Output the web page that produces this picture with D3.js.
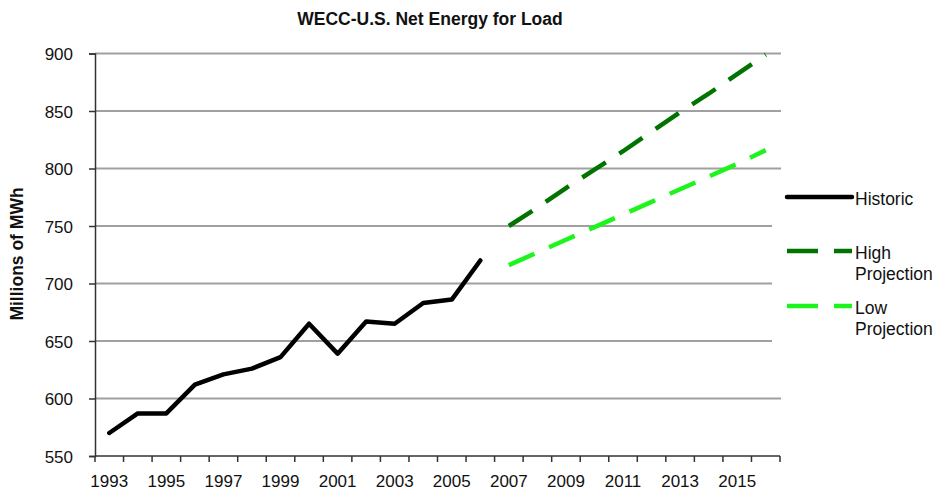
<!DOCTYPE html>
<html lang="en">
<head>
<meta charset="UTF-8">
<title>WECC-U.S. Net Energy for Load</title>
<script src="https://cdn.jsdelivr.net/npm/d3@7"></script>
<style>
  body { margin: 0; background: #fff; }
  text { font-family: Arial, "Liberation Sans", sans-serif; fill: #111; }
</style>
</head>
<body>
<svg id="mainsvg" width="938" height="494"></svg>
<script>
    // data
    const years = d3.range(1993, 2017).map(String);
    const tickYears = ["1993","1995","1997","1999","2001","2003","2005","2007","2009","2011","2013","2015"];
    const historicYears = ["1993","1994","1995","1996","1997","1998","1999","2000","2001","2002","2003","2004","2005","2006"];
    const historic = [570, 587, 587, 612, 621, 626, 636, 665, 639, 667, 665, 683, 686, 720];
    const projYears = ["2007","2008","2009","2010","2011","2012","2013","2014","2015","2016"];
    const highProj = [750, 766, 783, 799, 815, 832, 849, 865, 882, 899];
    const lowProj = [716, 727, 738, 749, 760, 771, 782, 793, 804, 816];
    const yTicks = [550, 600, 650, 700, 750, 800, 850, 900];

    const svg = d3.select("svg");
    const margin = {top: 53.5, left: 95, right: 158, bottom: 38};
    const width = +svg.attr("width");
    const height = +svg.attr("height");
    const innerWidth = width - margin.left - margin.right;
    const innerHeight = height - margin.top - margin.bottom;

    const g = svg.append("g").attr("transform", `translate(${margin.left}, ${margin.top})`);

    const x = d3.scaleBand().domain(years).range([0, innerWidth]);
    const y = d3.scaleLinear().domain([550, 900]).range([innerHeight, 0]);
    const cx = d => x(d) + x.bandwidth() / 2;

    // gridlines
    g.selectAll(".grid")
        .data(yTicks.filter(v => v > 550))
        .join("line")
        .attr("class", "grid")
        .attr("x1", 0).attr("x2", innerWidth + 1)
        .attr("y1", d => y(d)).attr("y2", d => y(d))
        .attr("stroke", "#a0a0a0")
        .attr("stroke-width", 2);

    // titles
    svg.append("text")
        .attr("x", 430).attr("y", 25)
        .attr("text-anchor", "middle")
        .attr("font-size", 17.5).attr("font-weight", "bold")
        .text("WECC-U.S. Net Energy for Load");

    svg.append("text")
        .attr("transform", "translate(23, 254) rotate(-90)")
        .attr("text-anchor", "middle")
        .attr("font-size", 17.5).attr("font-weight", "bold")
        .text("Millions of MWh");

    // y axis
    const yAxis = g.append("g")
        .call(d3.axisLeft(y).tickValues(yTicks).tickSize(6).tickPadding(16));
    yAxis.selectAll("text").attr("font-size", 17).attr("font-family", "Arial, 'Liberation Sans', sans-serif").attr("fill", "#111").attr("dy", "0.36em");
    yAxis.select(".domain").attr("stroke", "#333").attr("stroke-width", 1.5);
    yAxis.selectAll(".tick line").attr("stroke", "#333").attr("stroke-width", 1.5);

    // x axis, ticks on band edges like Excel
    const xAxis = g.append("g")
        .attr("transform", `translate(0, ${innerHeight})`);
    xAxis.append("line")
        .attr("x1", 0).attr("x2", innerWidth)
        .attr("stroke", "#333").attr("stroke-width", 1.5);
    xAxis.selectAll(".xtick")
        .data(years.concat(["end"]))
        .join("line")
        .attr("class", "xtick")
        .attr("x1", d => d === "end" ? innerWidth : x(d))
        .attr("x2", d => d === "end" ? innerWidth : x(d))
        .attr("y1", 0).attr("y2", 6)
        .attr("stroke", "#333").attr("stroke-width", 1.5);
    xAxis.selectAll(".xlabel")
        .data(tickYears)
        .join("text")
        .attr("class", "xlabel")
        .attr("x", d => cx(d))
        .attr("y", 31)
        .attr("text-anchor", "middle")
        .attr("font-size", 17)
        .text(d => d);

    const line = d3.line().x(d => cx(d[0])).y(d => y(d[1]));

    g.append("path")
        .attr("d", line(historicYears.map((d, i) => [d, historic[i]])))
        .attr("fill", "none").attr("stroke", "#000")
        .attr("stroke-width", 4.5).attr("stroke-linejoin", "round").attr("stroke-linecap", "round");

    g.append("path")
        .attr("d", line(projYears.map((d, i) => [d, highProj[i]])))
        .attr("fill", "none").attr("stroke", "#007300")
        .attr("stroke-width", 4.5).attr("stroke-dasharray", "28,16");

    g.append("path")
        .attr("d", line(projYears.map((d, i) => [d, lowProj[i]])))
        .attr("fill", "none").attr("stroke", "#1cf51c")
        .attr("stroke-width", 4.5).attr("stroke-dasharray", "28,16");

    // legend
    svg.append("rect")
        .attr("x", 772).attr("y", 180).attr("width", 166).attr("height", 200)
        .attr("fill", "#fff");
    const legend = [
        {label: ["Historic"], color: "#000", dash: null, y: 197},
        {label: ["High", "Projection"], color: "#007300", dash: "31,16", y: 251},
        {label: ["Low", "Projection"], color: "#1cf51c", dash: "31,16", y: 306}
    ];
    const lg = svg.append("g").selectAll("g").data(legend).join("g");
    lg.append("line")
        .attr("x1", 787).attr("x2", 852)
        .attr("y1", d => d.y).attr("y2", d => d.y)
        .attr("stroke", d => d.color)
        .attr("stroke-width", 4.5)
        .attr("stroke-linecap", d => d.dash ? "butt" : "round")
        .attr("stroke-dasharray", d => d.dash);
    lg.append("text")
        .attr("x", 855)
        .attr("y", d => d.y + 8)
        .attr("font-size", 17.5)
        .selectAll("tspan")
        .data(d => d.label)
        .join("tspan")
        .attr("x", 855)
        .attr("dy", (d, i) => i === 0 ? 0 : 21)
        .text(d => d);
</script>
</body>
</html>
